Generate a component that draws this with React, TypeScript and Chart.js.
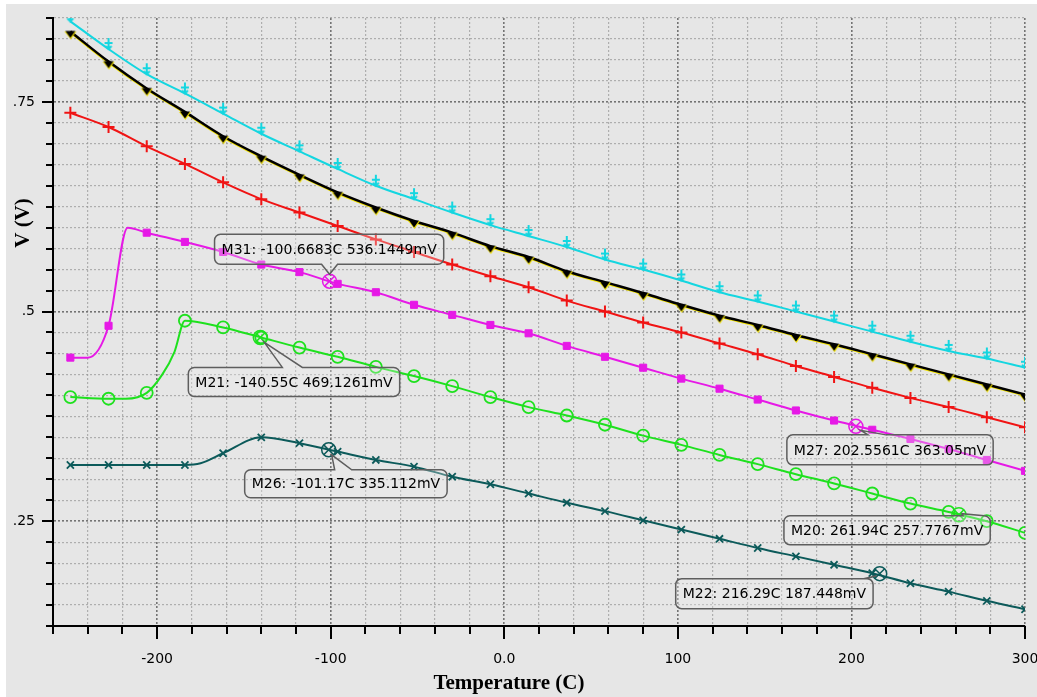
import React, { useEffect, useRef } from 'react';
import { Chart, registerables } from 'chart.js';

Chart.register(...registerables);

// ---------- data ----------
const markerTemps = [-250, -228, -206, -184, -162, -140, -118, -96, -74, -52, -30, -8, 14, 36, 58, 80, 102, 124, 146, 168, 190, 212, 234, 256, 278, 300];

const cyanV = [0.846, 0.813, 0.783, 0.760, 0.736, 0.712, 0.691, 0.670, 0.650, 0.634, 0.618, 0.603, 0.590, 0.577, 0.562, 0.550, 0.537, 0.523, 0.512, 0.500, 0.488, 0.476, 0.464, 0.453, 0.444, 0.433];
const blackV = [0.834, 0.798, 0.766, 0.738, 0.709, 0.685, 0.663, 0.642, 0.624, 0.608, 0.594, 0.578, 0.565, 0.548, 0.535, 0.522, 0.508, 0.495, 0.484, 0.472, 0.461, 0.449, 0.437, 0.425, 0.413, 0.401];
const yellowV = [0.833, 0.797, 0.765, 0.737, 0.708, 0.684, 0.662, 0.641, 0.623, 0.607, 0.593, 0.577, 0.564, 0.547, 0.534, 0.521, 0.507, 0.494, 0.483, 0.471, 0.460, 0.448, 0.436, 0.424, 0.412, 0.400];
const redV = [0.737, 0.720, 0.697, 0.676, 0.654, 0.634, 0.618, 0.602, 0.586, 0.571, 0.556, 0.542, 0.529, 0.513, 0.500, 0.487, 0.475, 0.462, 0.449, 0.435, 0.422, 0.409, 0.397, 0.386, 0.374, 0.362];
const magentaV = [0.445, 0.483, 0.594, 0.583, 0.571, 0.556, 0.547, 0.533, 0.523, 0.508, 0.496, 0.484, 0.474, 0.459, 0.446, 0.433, 0.420, 0.408, 0.395, 0.382, 0.370, 0.359, 0.348, 0.336, 0.323, 0.310];
const greenV = [0.398, 0.396, 0.403, 0.489, 0.481, 0.469, 0.457, 0.446, 0.434, 0.423, 0.411, 0.398, 0.386, 0.376, 0.365, 0.352, 0.341, 0.329, 0.318, 0.306, 0.295, 0.283, 0.271, 0.261, 0.250, 0.236];
const tealV = [0.317, 0.317, 0.317, 0.317, 0.331, 0.350, 0.343, 0.333, 0.323, 0.315, 0.303, 0.294, 0.283, 0.272, 0.262, 0.251, 0.240, 0.229, 0.218, 0.208, 0.198, 0.188, 0.176, 0.166, 0.155, 0.145];

// extra (un-marked) samples on the curves
const magentaExtraT = [-240, -217];
const magentaExtraV = [0.445, 0.600];
const greenExtraT = [-218, -197, -190];
const greenExtraV = [0.396, 0.425, 0.452];
const tealExtraT = [-175];
const tealExtraV = [0.319];

// cursors
const cursorTemps = [-100.6683, -140.55, -101.17, 202.5561, 261.94, 216.29];
const cursorValues = [0.5361449, 0.4691261, 0.335112, 0.36305, 0.2577767, 0.187448];
const cursorTexts = [
  'M31: -100.6683C 536.1449mV',
  'M21: -140.55C 469.1261mV',
  'M26: -101.17C 335.112mV',
  'M27: 202.5561C 363.05mV',
  'M20: 261.94C 257.7767mV',
  'M22: 216.29C 187.448mV',
];

// axes
const xMin = -260;
const xMax = 300;
const xMinorStep = 20;
const xMajorTicks = [-200, -100, 0, 100, 200, 300];
const xTickLabels = ['-200', '-100', '0.0', '100', '200', '300'];
const yMin = 0.125;
const yMax = 0.85;
const yMinorStep = 0.025;
const yMajorTicks = [0.25, 0.5, 0.75];
const yTickLabels = ['.25', '.5', '.75'];
const xTitle = 'Temperature (C)';
const yTitle = 'V (V)';

// ---------- styles ----------
const W = 1037;
const H = 697;
const COL = {
  cyan: '#14d6e0',
  black: '#000000',
  yellow: '#f2e200',
  red: '#f01414',
  magenta: '#e619e6',
  green: '#1ee11e',
  teal: '#0c5a5a',
};
const cursorColors = [COL.magenta, COL.green, COL.teal, COL.magenta, COL.green, COL.teal];
const calloutGeom = [
  { box: [-115, -47], h: 30, side: 'bottom', b: [-8, 8], tip: [0, -7] },
  { box: [-72, 30], h: 29, side: 'top', b: [22, 42], tip: [4, 5] },
  { box: [-84, 20], h: 28, side: 'top', b: [6, 23], tip: [3, 5] },
  { box: [-69, 8.5], h: 30, side: 'top', b: [12, 30], tip: [5, 4] },
  { box: [-175, 1], h: 29, side: 'top', b: [4, 30], tip: [3, -1] },
  { box: [-204, 5], h: 30, side: 'top', b: [-16, -4], tip: [-3, 2] },
];

function buildTicks(min: number, max: number, step: number) {
  const out: number[] = [];
  const n = Math.round((max - min) / step);
  for (let i = 0; i <= n; i++) out.push(Math.round((min + i * step) * 10000) / 10000);
  return out;
}
const xTickVals = buildTicks(xMin, xMax, xMinorStep);
const yTickVals = buildTicks(yMin, yMax, yMinorStep);
const isXMajor = (v: number) => xMajorTicks.some((t) => Math.abs(t - v) < 1e-6);
const isYMajor = (v: number) => yMajorTicks.some((t) => Math.abs(t - v) < 1e-6);

function linePoints(vals: number[], extraT: number[] = [], extraV: number[] = []) {
  const pts = markerTemps.map((t, i) => ({ x: t, y: vals[i] }));
  extraT.forEach((t, i) => pts.push({ x: t, y: extraV[i] }));
  return pts.sort((a, b) => a.x - b.x);
}
function markPoints(vals: number[]) {
  return markerTemps.map((t, i) => ({ x: t, y: vals[i] }));
}

function makeGlyph(draw: (g: CanvasRenderingContext2D) => void) {
  const c = document.createElement('canvas');
  c.width = 24;
  c.height = 24;
  const g = c.getContext('2d')!;
  draw(g);
  return c;
}

export default function App() {
  const ref = useRef<HTMLCanvasElement>(null);

  useEffect(() => {
    const cyanGlyph = makeGlyph((g) => {
      g.strokeStyle = COL.cyan;
      g.lineWidth = 2;
      g.beginPath();
      g.moveTo(12, 1);
      g.lineTo(12, 12);
      g.moveTo(8, 6);
      g.lineTo(16, 6);
      g.moveTo(9, 9);
      g.lineTo(12, 12);
      g.lineTo(15, 9);
      g.stroke();
    });
    const blackGlyph = makeGlyph((g) => {
      g.fillStyle = COL.yellow;
      g.beginPath();
      g.moveTo(6, 12);
      g.lineTo(18, 12);
      g.lineTo(12.5, 20);
      g.closePath();
      g.fill();
      g.fillStyle = '#000';
      g.beginPath();
      g.moveTo(7, 11.5);
      g.lineTo(17, 11.5);
      g.lineTo(12, 18.5);
      g.closePath();
      g.fill();
    });

    const lineDs = (data: any[], color: string, width = 2) => ({
      data,
      showLine: true,
      borderColor: color,
      borderWidth: width,
      pointRadius: 0,
      cubicInterpolationMode: 'monotone',
      fill: false,
    });
    const markDs = (data: any[], color: string, style: any, radius: number, filled = false, bw = 2) => ({
      data,
      showLine: false,
      pointStyle: style,
      pointRadius: radius,
      pointBorderColor: color,
      pointBackgroundColor: filled ? color : 'rgba(0,0,0,0)',
      pointBorderWidth: bw,
    });

    const cursorPts = cursorTemps.map((t, i) => ({ x: t, y: cursorValues[i] }));

    const datasets: any[] = [
      {
        data: cursorPts,
        showLine: false,
        pointStyle: 'circle',
        pointRadius: 7,
        pointBorderColor: cursorColors,
        pointBackgroundColor: 'rgba(0,0,0,0)',
        pointBorderWidth: 1.5,
      },
      {
        data: cursorPts,
        showLine: false,
        pointStyle: 'crossRot',
        pointRadius: 7,
        pointBorderColor: cursorColors,
        pointBorderWidth: 1.5,
      },
      markDs(markPoints(tealV), COL.teal, 'crossRot', 5, false, 1.8),
      lineDs(linePoints(tealV, tealExtraT, tealExtraV), COL.teal),
      markDs(markPoints(greenV), COL.green, 'circle', 6, false, 1.8),
      lineDs(linePoints(greenV, greenExtraT, greenExtraV), COL.green),
      markDs(markPoints(magentaV), COL.magenta, 'rect', 5, true, 1),
      lineDs(linePoints(magentaV, magentaExtraT, magentaExtraV), COL.magenta),
      markDs(markPoints(redV), COL.red, 'cross', 6, false, 2),
      lineDs(linePoints(redV), COL.red),
      markDs(markPoints(cyanV), COL.cyan, cyanGlyph, 6),
      lineDs(linePoints(cyanV), COL.cyan),
      markDs(markPoints(blackV), COL.black, blackGlyph, 6),
      lineDs(linePoints(blackV), COL.black, 2.5),
      lineDs(linePoints(yellowV), COL.yellow, 2.5),
    ];

    const decorPlugin = {
      id: 'decor',
      beforeDraw(chart: any) {
        const c = chart.ctx;
        c.save();
        c.fillStyle = '#ffffff';
        c.fillRect(0, 0, W, H);
        c.fillStyle = '#e6e6e6';
        c.fillRect(6, 4, W - 6, H - 4);
        c.restore();
      },
      afterDatasetsDraw(chart: any) {
        const c = chart.ctx;
        const xs = chart.scales.x;
        const ys = chart.scales.y;
        c.save();
        c.font = '14px "DejaVu Sans"';
        cursorTexts.forEach((txt, i) => {
          const g = calloutGeom[i];
          const mx = xs.getPixelForValue(cursorTemps[i]);
          const my = ys.getPixelForValue(cursorValues[i]);
          const tw = c.measureText(txt).width;
          const L = mx + g.box[0];
          const T = my + g.box[1];
          const R = L + tw + 14;
          const B = T + g.h;
          const r = 6;
          const clamp = (v: number) => Math.min(Math.max(v, L + r), R - r);
          const b1 = clamp(mx + g.b[0]);
          const b2 = clamp(mx + g.b[1]);
          const tx = mx + g.tip[0];
          const ty = my + g.tip[1];
          c.beginPath();
          c.moveTo(L + r, T);
          if (g.side === 'top') {
            c.lineTo(b1, T);
            c.lineTo(tx, ty);
            c.lineTo(b2, T);
          }
          c.lineTo(R - r, T);
          c.arcTo(R, T, R, T + r, r);
          c.lineTo(R, B - r);
          c.arcTo(R, B, R - r, B, r);
          if (g.side === 'bottom') {
            c.lineTo(b2, B);
            c.lineTo(tx, ty);
            c.lineTo(b1, B);
          }
          c.lineTo(L + r, B);
          c.arcTo(L, B, L, B - r, r);
          c.lineTo(L, T + r);
          c.arcTo(L, T, L + r, T, r);
          c.closePath();
          c.fillStyle = 'rgba(238,238,238,0.3)';
          c.fill();
          c.strokeStyle = '#5e5e5e';
          c.lineWidth = 1.5;
          c.stroke();
          c.fillStyle = '#000';
          c.textAlign = 'left';
          c.textBaseline = 'middle';
          c.fillText(txt, L + 7, (T + B) / 2 + 1);
        });
        c.restore();
      },
      afterDraw(chart: any) {
        const c = chart.ctx;
        const xs = chart.scales.x;
        const ys = chart.scales.y;
        const area = chart.chartArea;
        c.save();
        c.strokeStyle = '#000';
        c.lineWidth = 2;
        c.beginPath();
        xTickVals.forEach((v) => {
          const px = Math.round(xs.getPixelForValue(v));
          c.moveTo(px, area.bottom);
          c.lineTo(px, area.bottom + (isXMajor(v) ? 13 : 8));
        });
        yTickVals.forEach((v) => {
          const py = Math.round(ys.getPixelForValue(v));
          c.moveTo(area.left - (isYMajor(v) ? 11 : 7), py);
          c.lineTo(area.left, py);
        });
        c.stroke();

        c.fillStyle = '#000';
        c.font = 'bold 21px "Liberation Serif"';
        c.textAlign = 'center';
        c.textBaseline = 'middle';
        c.fillText(xTitle, 509, 684);
        c.translate(24, 223);
        c.rotate(-Math.PI / 2);
        c.fillText(yTitle, 0, 0);
        c.restore();
      },
    };

    const chart = new Chart(ref.current!, {
      type: 'scatter',
      data: { datasets },
      options: {
        animation: false,
        responsive: false,
        devicePixelRatio: 1,
        layout: { padding: { top: 18, right: 12, left: 0, bottom: 0 } },
        plugins: { legend: { display: false }, tooltip: { enabled: false } },
        scales: {
          x: {
            type: 'linear',
            min: xMin,
            max: xMax,
            afterBuildTicks: (s: any) => {
              s.ticks = xTickVals.map((v) => ({ value: v }));
            },
            afterFit: (s: any) => {
              s.height = 71;
              s.paddingLeft = 0;
              s.paddingRight = 0;
              s.paddingTop = 0;
              s.paddingBottom = 0;
            },
            ticks: {
              autoSkip: false,
              maxRotation: 0,
              padding: 25,
              color: '#000',
              font: { family: 'DejaVu Sans', size: 14 },
              callback: (v: any) => {
                const i = xMajorTicks.findIndex((t) => Math.abs(t - v) < 1e-6);
                return i >= 0 ? xTickLabels[i] : '';
              },
            },
            grid: {
              drawTicks: false,
              color: (ctx: any) => (isXMajor(ctx.tick?.value) ? 'rgba(110,110,110,0.95)' : 'rgba(150,150,150,0.7)'),
              lineWidth: (ctx: any) => (isXMajor(ctx.tick?.value) ? 1.6 : 1.2),
            },
            border: { display: true, color: '#000', width: 2, dash: [2, 2] },
          },
          y: {
            type: 'linear',
            min: yMin,
            max: yMax,
            afterBuildTicks: (s: any) => {
              s.ticks = yTickVals.map((v) => ({ value: v }));
            },
            afterFit: (s: any) => {
              s.width = 53;
              s.paddingLeft = 0;
              s.paddingRight = 0;
              s.paddingTop = 0;
              s.paddingBottom = 0;
            },
            ticks: {
              autoSkip: false,
              padding: 18,
              color: '#000',
              font: { family: 'DejaVu Sans', size: 14 },
              callback: (v: any) => {
                const i = yMajorTicks.findIndex((t) => Math.abs(t - v) < 1e-6);
                return i >= 0 ? yTickLabels[i] : '';
              },
            },
            grid: {
              drawTicks: false,
              color: (ctx: any) => (isYMajor(ctx.tick?.value) ? 'rgba(110,110,110,0.95)' : 'rgba(150,150,150,0.7)'),
              lineWidth: (ctx: any) => (isYMajor(ctx.tick?.value) ? 1.6 : 1.2),
            },
            border: { display: true, color: '#000', width: 2, dash: [2, 2] },
          },
        },
      } as any,
      plugins: [decorPlugin],
    });
    return () => chart.destroy();
  }, []);

  return (
    <div style={{ position: 'fixed', left: 0, top: 0, width: W, height: H, background: '#fff' }}>
      <canvas ref={ref} width={W} height={H} style={{ display: 'block', width: W, height: H }} />
    </div>
  );
}
